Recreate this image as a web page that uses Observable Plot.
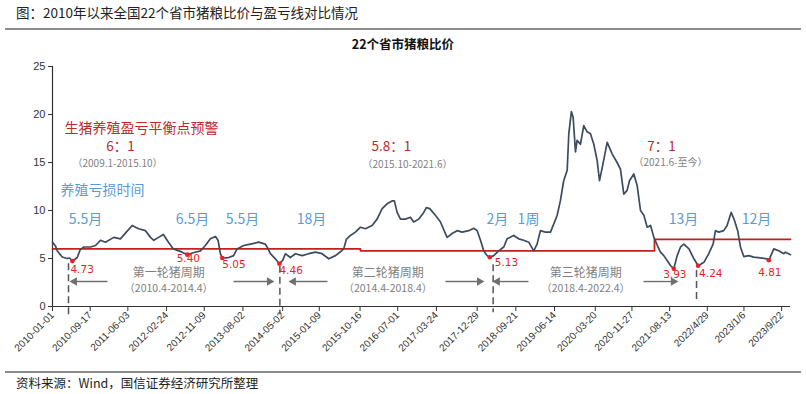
<!DOCTYPE html>
<html><head><meta charset="utf-8">
<script src="https://cdn.jsdelivr.net/npm/d3@7"></script>
<script src="https://cdn.jsdelivr.net/npm/@observablehq/plot@0.6"></script>
<style>
body{margin:0;width:806px;height:394px;position:relative;background:#fff;font-family:"Noto Sans CJK SC",sans-serif;overflow:hidden}
#title{position:absolute;left:16px;top:6px;font-size:13.5px;line-height:1;color:#222;white-space:nowrap}
#rule1{position:absolute;left:5px;width:796px;top:28px;height:2px;background:#8c8c8c}
#sub{position:absolute;left:0;width:806px;top:38px;text-align:center;font-size:12.5px;line-height:1;font-weight:bold;color:#111}
#chart{position:absolute;left:0;top:36px}
#rule2{position:absolute;left:5px;width:796px;top:371px;height:1.5px;background:#8c8c8c}
#foot{position:absolute;left:16px;top:377px;font-size:12.5px;line-height:1;color:#222;white-space:nowrap}
</style></head>
<body>
<div id="title">图：2010年以来全国22个省市猪粮比价与盈亏线对比情况</div>
<div id="rule1"></div>
<div id="chart"></div>
<div id="sub">22个省市猪粮比价</div>
<div id="rule2"></div>
<div id="foot">资料来源：Wind，国信证券经济研究所整理</div>
<script>
// ---- data ----
const seriesDates = ["2010-01-01","2010-01-22","2010-02-02","2010-03-09","2010-04-10","2010-04-28","2010-05-18","2010-06-20","2010-07-10","2010-08-04","2010-09-19","2010-10-24","2010-11-27","2010-12-31","2011-02-26","2011-04-13","2011-05-20","2011-07-03","2011-07-26","2011-08-17","2011-10-02","2011-11-06","2011-11-28","2011-12-31","2012-02-02","2012-03-08","2012-04-11","2012-06-10","2012-07-16","2012-08-26","2012-10-14","2012-11-17","2012-12-21","2013-01-25","2013-02-12","2013-02-28","2013-03-13","2013-04-26","2013-05-30","2013-06-23","2013-08-07","2013-09-22","2013-11-18","2014-01-03","2014-01-15","2014-02-07","2014-03-13","2014-04-10","2014-05-02","2014-05-21","2014-06-24","2014-07-29","2014-09-13","2014-10-28","2014-12-13","2015-01-28","2015-03-15","2015-04-30","2015-06-03","2015-06-26","2015-07-14","2015-08-11","2015-09-14","2015-10-19","2015-11-22","2016-01-07","2016-02-10","2016-03-16","2016-04-19","2016-05-23","2016-06-08","2016-06-27","2016-07-20","2016-08-23","2016-09-26","2016-10-19","2016-11-22","2016-12-27","2017-01-14","2017-02-06","2017-03-17","2017-04-21","2017-05-25","2017-06-06","2017-07-10","2017-08-13","2017-09-17","2017-11-01","2017-12-05","2017-12-29","2018-01-21","2018-02-12","2018-03-07","2018-03-26","2018-04-22","2018-05-26","2018-06-30","2018-07-23","2018-09-06","2018-10-11","2018-11-14","2018-12-19","2019-01-22","2019-02-14","2019-03-09","2019-04-12","2019-05-17","2019-06-09","2019-07-02","2019-07-24","2019-08-16","2019-09-09","2019-09-20","2019-10-08","2019-10-20","2019-11-05","2019-11-16","2019-12-09","2020-01-01","2020-01-24","2020-02-16","2020-03-10","2020-04-02","2020-04-18","2020-05-10","2020-06-10","2020-07-14","2020-08-17","2020-09-09","2020-10-02","2020-10-25","2020-11-10","2020-12-10","2021-01-02","2021-01-25","2021-02-17","2021-03-12","2021-04-04","2021-04-27","2021-05-21","2021-06-11","2021-07-04","2021-07-27","2021-08-19","2021-09-11","2021-10-04","2021-10-27","2021-11-19","2021-12-24","2022-01-27","2022-02-25","2022-04-06","2022-05-09","2022-06-08","2022-06-24","2022-07-17","2022-08-20","2022-09-12","2022-10-10","2022-11-02","2022-11-24","2022-12-13","2023-01-05","2023-02-08","2023-03-14","2023-04-29","2023-06-15","2023-06-26","2023-07-30","2023-09-02","2023-10-07","2023-10-18","2023-11-22"];
const seriesValues = [6.7,6.3,5.8,5.15,5.0,5.05,4.73,5.1,5.9,6.2,6.2,6.35,6.9,6.7,7.2,7.05,7.7,8.44,8.26,8.1,7.9,7.2,6.9,7.2,7.5,6.7,6.0,5.66,5.40,5.6,5.8,6.35,7.05,7.3,6.9,5.5,5.05,5.1,5.3,6.0,6.35,6.5,6.7,6.5,6.2,5.5,4.97,4.46,4.8,5.5,5.1,5.5,5.3,5.5,5.66,5.5,4.97,5.3,5.7,6.0,7.0,7.4,7.75,8.26,8.1,8.44,9.1,10.2,10.7,11.0,11.0,9.8,9.1,9.1,9.3,8.8,9.1,9.8,10.3,10.2,9.5,8.8,7.6,7.2,7.6,7.9,7.75,7.9,8.15,7.9,6.9,5.8,5.3,5.13,5.3,5.8,6.2,7.05,7.4,7.05,6.9,6.7,5.8,6.5,7.9,7.75,7.75,8.6,9.5,11.0,13.1,14.2,18.0,20.3,19.7,16.1,17.3,16.9,18.85,18.2,18.0,16.9,15.2,13.1,14.7,17.1,15.9,15.0,14.3,11.7,12.1,13.1,13.8,12.6,10.0,9.5,8.26,8.44,7.2,6.35,5.66,5.3,4.8,4.27,3.93,5.3,6.2,6.5,6.0,4.97,4.24,4.6,5.5,6.5,7.9,7.75,7.9,8.44,9.8,8.96,7.9,6.2,5.2,5.3,5.14,5.07,4.97,4.81,6.0,5.8,5.5,5.66,5.4];

const breakEvenDates = ["2010-01-01","2015-10-19","2021-05-01","2023-11-22"];
const breakEvenValues = [6, 5.8, 7, 7];

const troughDates = ["2010-05-18","2012-07-16","2013-03-13","2014-04-10","2018-03-26","2021-09-11","2022-02-25","2023-06-26"];
const troughValues = [4.73, 5.40, 5.05, 4.46, 5.13, 3.93, 4.24, 4.81];

const xTickDates = ["2010-01-01","2010-09-17","2011-06-03","2012-02-24","2012-11-09","2013-08-02","2014-05-02","2015-01-09","2015-10-16","2016-07-01","2017-03-24","2017-12-29","2018-09-21","2019-06-14","2020-03-20","2020-11-27","2021-08-13","2022-04-29","2023-01-06","2023-09-22"];
const xTickLabels = ["2010-01-01","2010-09-17","2011-06-03","2012-02-24","2012-11-09","2013-08-02","2014-05-02","2015-01-09","2015-10-16","2016-07-01","2017-03-24","2017-12-29","2018-09-21","2019-06-14","2020-03-20","2020-11-27","2021-08-13","2022/4/29","2023/1/6","2023/9/22"];
const yTicks = [0, 5, 10, 15, 20, 25];

const ratioLabels = ["6：1", "5.8：1", "7：1"];
const ratioDates = ["2011-04-13", "2016-05-19", "2021-06-18"];
const ratioValues = [16.6, 16.6, 16.6];
const rangeLabels = ["（2009.1-2015.10）", "（2015.10-2021.6）", "（2021.6-至今）"];
const rangeDates = ["2011-03-24", "2016-09-06", "2021-08-19"];
const rangeValues = [14.85, 14.75, 14.95];
const warnLabel = ["生猪养殖盈亏平衡点预警"], warnDate = ["2011-09-05"], warnValue = [18.55];
const lossLabel = ["养殖亏损时间"], lossDate = ["2010-12-11"], lossValue = [12.1];
const durationLabels = ["5.5月","6.5月","5.5月","18月","2月","1周","13月","12月"];
const durationDates = ["2010-08-16","2012-08-20","2013-07-30","2014-11-16","2018-05-17","2018-12-17","2021-11-16","2023-04-02"];
const durationValue = 9.06;

const cycleNames = ["第一轮猪周期","第二轮猪周期","第三轮猪周期"];
const cycleRanges = ["（2010.4-2014.4）","（2014.4-2018.4）","（2018.4-2022.4）"];
const cycleDates = ["2012-03-10","2016-04-24","2020-01-14"];
const cycleNameValue = 3.45, cycleRangeValue = 1.85;

const arrowStarts = ["2011-01-14","2013-05-29","2015-03-06","2017-05-25","2018-12-17","2021-02-14"];
const arrowEnds   = ["2010-06-01","2014-01-31","2014-07-15","2018-01-14","2018-05-17","2021-09-08"];
const arrowValue = 2.6;

const boundaryDates = ["2010-04-21","2014-04-13","2018-04-18","2022-02-14"];
const boundaryTop = [4.45, 4.2, 4.35, 3.75];
const boundaryBottom = [-0.85, -0.85, -0.65, 0.35];

// ---- build tables ----
const D = s => new Date(s);
const series = seriesDates.map((d, i) => ({date: D(d), value: seriesValues[i]}));
const breakEven = breakEvenDates.map((d, i) => ({date: D(d), value: breakEvenValues[i]}));
const troughs = troughDates.map((d, i) => ({date: D(d), value: troughValues[i], label: troughValues[i].toFixed(2)}));
const tickMap = new Map(xTickDates.map((d, i) => [+D(d), xTickLabels[i]]));
const arrows = arrowStarts.map((d, i) => ({x1: D(d), x2: D(arrowEnds[i]), y: arrowValue, dir: D(arrowEnds[i]) > D(d) ? 90 : -90}));
const boundaries = boundaryDates.map((d, i) => ({date: D(d), y1: boundaryTop[i], y2: boundaryBottom[i]}));
const tbl = (labels, dates, values) => labels.map((t, i) => ({text: t, date: D(dates[i]), value: Array.isArray(values) ? values[i] : values}));

// label placement styles for trough labels
const tAnchor = ["start","middle","start","start","start","middle","start","middle"];
const tDx = [-2, 1, 0, 0, 5, 1, 1, 1];
const tDy = [9, 3.5, 7, 7, 5, 6, 8, 12.5];

const CJK = "'Noto Sans CJK SC', sans-serif";
const RED = "#c0282d", BLUE = "#5b9bd5", GRAY = "#7f7f7f", MRED = "#ee1c25";

const chart = Plot.plot({
  width: 806, height: 330,
  marginLeft: 52, marginRight: 16, marginTop: 30, marginBottom: 60,
  style: {fontFamily: "'Liberation Sans', Arial, sans-serif", fontSize: "10px", color: "#333", background: "transparent", overflow: "visible"},
  x: {type: "utc", domain: [D("2010-01-01"), D("2023-11-22")]},
  y: {domain: [0, 25]},
  marks: [
    Plot.axisY({ticks: yTicks, tickSize: 4, tickPadding: 3, fontSize: 11, label: null}),
    Plot.axisX({ticks: xTickDates.map(D), tickFormat: d => tickMap.get(+d), tickRotate: -45, tickSize: 5, tickPadding: 2, fontSize: 10, label: null}),
    Plot.ruleX([D("2010-01-01")], {y1: 0, y2: 25, stroke: "#333", strokeWidth: 1.2}),
    Plot.ruleY([0], {stroke: "#333", strokeWidth: 1.2}),
    Plot.line(breakEven, {x: "date", y: "value", curve: "step-after", stroke: "#c81e1e", strokeWidth: 1.8}),
    Plot.line(series, {x: "date", y: "value", stroke: "#3c4b5f", strokeWidth: 1.7, curve: "linear"}),
    Plot.ruleX(boundaries, {x: "date", y1: "y1", y2: "y2", stroke: "#555", strokeWidth: 1.5, strokeDasharray: "7,4"}),
    Plot.dot(troughs, {x: "date", y: "value", r: 2.3, fill: MRED, stroke: "none"}),
    ...troughs.map((t, k) => Plot.text([t], {x: "date", y: "value", text: "label", fill: MRED, fontSize: 10.5,
      fontFamily: "'DejaVu Sans', sans-serif", textAnchor: tAnchor[k], dx: tDx[k], dy: tDy[k]})),
    Plot.text(tbl(warnLabel, warnDate, warnValue), {x: "date", y: "value", text: "text", fill: RED, fontSize: 14, fontFamily: CJK}),
    Plot.text(tbl(ratioLabels, ratioDates, ratioValues), {x: "date", y: "value", text: "text", fill: RED, fontSize: 13.5, fontFamily: CJK}),
    Plot.text(tbl(rangeLabels, rangeDates, rangeValues), {x: "date", y: "value", text: "text", fill: GRAY, fontSize: 10, fontFamily: CJK}),
    Plot.text(tbl(lossLabel, lossDate, lossValue), {x: "date", y: "value", text: "text", fill: BLUE, fontSize: 14, fontFamily: CJK}),
    Plot.text(tbl(durationLabels, durationDates, durationValue), {x: "date", y: "value", text: "text", fill: BLUE, fontSize: 14, fontFamily: CJK}),
    Plot.text(tbl(cycleNames, cycleDates, cycleNameValue), {x: "date", y: "value", text: "text", fill: GRAY, fontSize: 12, fontFamily: CJK}),
    Plot.text(tbl(cycleRanges, cycleDates, cycleRangeValue), {x: "date", y: "value", text: "text", fill: GRAY, fontSize: 10.5, fontFamily: CJK}),
    Plot.link(arrows, {x1: "x1", x2: "x2", y1: "y", y2: "y", stroke: "#6f6f6f", strokeWidth: 1.4}),
    Plot.dot(arrows, {x: "x2", y: "y", symbol: "triangle", rotate: "dir", r: 3.2, fill: "#6f6f6f", stroke: "none"})
  ]
});
document.getElementById("chart").appendChild(chart);
</script>
</body></html>
